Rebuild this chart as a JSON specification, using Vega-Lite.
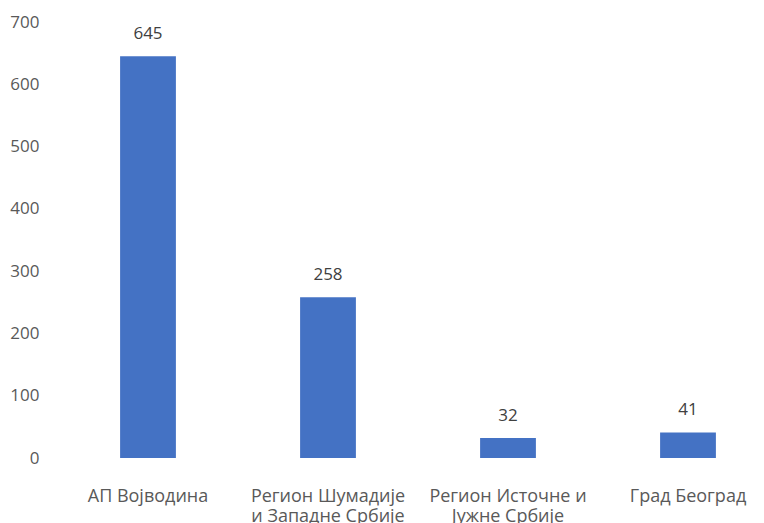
{
  "$schema": "https://vega.github.io/schema/vega-lite/v6.json",
  "width": 720,
  "height": 436,
  "autosize": {"type": "none"},
  "padding": {"left": 58, "top": 22, "right": 0, "bottom": 65},
  "background": "white",
  "config": {"view": {"stroke": null}, "font": "Open Sans"},
  "data": {"values": [
    {"region": "АП Војводина", "value": 645},
    {"region": "Регион Шумадије и Западне Србије", "value": 258},
    {"region": "Регион Источне и Јужне Србије", "value": 32},
    {"region": "Град Београд", "value": 41}
  ]},
  "encoding": {
    "x": {"field": "region", "type": "nominal", "sort": null,
      "scale": {"paddingInner": 0.69, "paddingOuter": 0.345},
      "axis": {"title": null, "labelAngle": 0, "domain": false, "ticks": false,
        "labelFontSize": 18, "labelColor": "#595959", "labelPadding": 29, "labelLineHeight": 20,
        "labelBaseline": "top", "labelLimit": 300,
        "labelExpr": "datum.value == 'Регион Шумадије и Западне Србије' ? ['Регион Шумадије', 'и Западне Србије'] : datum.value == 'Регион Источне и Јужне Србије' ? ['Регион Источне и', 'Јужне Србије'] : datum.value"}},
    "y": {"field": "value", "type": "quantitative",
      "scale": {"domain": [0, 700], "nice": false},
      "axis": {"title": null, "values": [0,100,200,300,400,500,600,700], "grid": false, "domain": false, "ticks": false,
        "labelFontSize": 17, "labelColor": "#595959", "labelPadding": 19}}
  },
  "layer": [
    {"mark": {"type": "bar", "color": "#4472C4"}},
    {"mark": {"type": "text", "dy": -17, "baseline": "alphabetic", "fontSize": 17, "color": "#404040"},
     "encoding": {"text": {"field": "value", "type": "quantitative"}}}
  ]
}
